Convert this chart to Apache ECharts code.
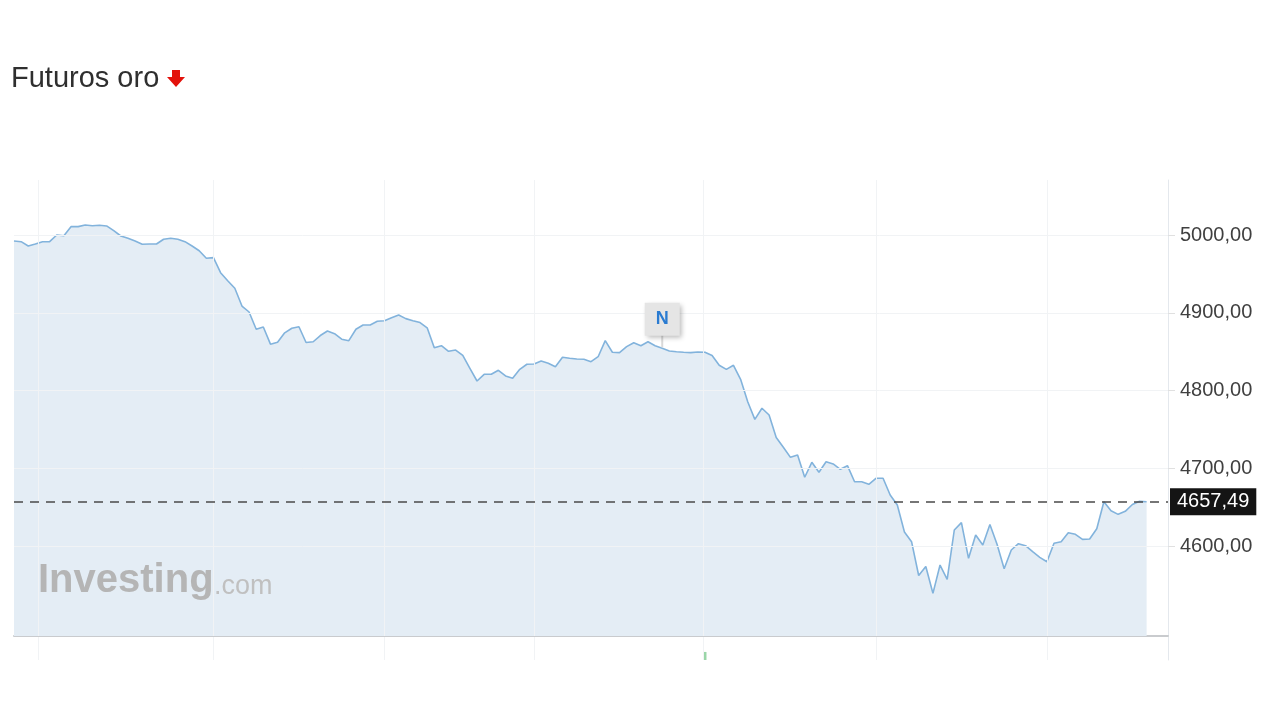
<!DOCTYPE html>
<html>
<head>
<meta charset="utf-8">
<style>
  html, body { margin: 0; padding: 0; background: #ffffff; }
  #chart { width: 1280px; height: 720px; }
</style>
<script src="https://cdn.jsdelivr.net/npm/echarts@6/dist/echarts.min.js"></script>
</head>
<body>
<div id="chart"></div>
<script>
// ---- data ----
const chartTitle = 'Futuros oro';
const prices = [
  4992.3, 4991.4, 4985.9, 4988.4, 4991.4, 4991.4, 5000.0, 4999.1, 5010.7, 5010.7,
  5012.8, 5011.9, 5012.5, 5011.6, 5005.5, 4998.7, 4995.8, 4992.3, 4988.1, 4988.4,
  4988.4, 4994.5, 4995.8, 4994.5, 4991.4, 4985.9, 4979.8, 4970.1, 4970.9, 4951.6,
  4941.3, 4931.6, 4908.8, 4901.1, 4878.9, 4881.9, 4859.8, 4862.2, 4874.4, 4880.2,
  4882.2, 4862.0, 4862.9, 4870.9, 4876.7, 4873.3, 4866.2, 4864.3, 4879.0, 4884.4,
  4884.4, 4889.2, 4889.8, 4893.7, 4897.3, 4892.6, 4889.8, 4887.6, 4880.8, 4855.3,
  4857.8, 4850.7, 4852.3, 4845.3, 4828.8, 4812.5, 4821.1, 4821.1, 4826.3, 4819.0,
  4816.0, 4827.5, 4834.0, 4834.3, 4838.2, 4835.3, 4830.9, 4843.0, 4841.7, 4840.8,
  4840.4, 4837.3, 4843.7, 4864.3, 4849.4, 4848.9, 4856.6, 4861.7, 4857.8, 4863.0,
  4857.8, 4854.5, 4851.0, 4850.1, 4849.4, 4848.9, 4849.8, 4849.5, 4845.3, 4832.7,
  4827.5, 4832.7, 4814.7, 4785.9, 4763.3, 4777.5, 4768.9, 4739.9, 4727.4, 4714.5,
  4717.5, 4688.9, 4708.1, 4695.3, 4708.9, 4706.0, 4699.1, 4703.8, 4683.2, 4683.2,
  4679.9, 4687.6, 4687.6, 4666.1, 4653.3, 4618.6, 4606.2, 4562.8, 4574.3, 4539.9,
  4576.2, 4557.9, 4621.2, 4630.6, 4584.8, 4614.8, 4601.9, 4628.2, 4602.8, 4571.4,
  4595.5, 4603.6, 4601.0, 4593.3, 4586.1, 4580.4, 4604.1, 4606.2, 4617.7, 4615.7,
  4609.2, 4609.6, 4622.9, 4657.5, 4645.9, 4641.3, 4645.2, 4653.9, 4658.0, 4657.49
];
const lastPrice = 4657.49;
const yTicks = [4600, 4700, 4800, 4900, 5000];
const sessionLines = [3.4, 28, 52, 73, 96.7, 121, 145];
const newsIndex = 91;
const newsLabel = 'N';
const volumeBars = [[97, 3.5]];

// ---- helpers ----
const fmt = v => v.toFixed(2).replace('.', ',');
const lineData = prices.map((v, i) => [i, v]);
const xMax = 162;
const yMin = 4485.1, yMax = 5070.6;
const gridLineColor = '#f1f3f5';
const fontFam = '"Liberation Sans", Arial, sans-serif';

const chart = echarts.init(document.getElementById('chart'), null, { renderer: 'canvas' });

chart.setOption({
  animation: false,
  backgroundColor: '#ffffff',
  textStyle: { fontFamily: fontFam },
  grid: [
    { left: 14, right: 112, top: 180, bottom: 84 },
    { left: 14, right: 112, top: 637, height: 23 }
  ],
  xAxis: [
    {
      type: 'value', gridIndex: 0, min: 0, max: xMax,
      axisLine: { show: true, onZero: false, lineStyle: { color: '#c9cbce', width: 2 } },
      axisTick: { show: false }, axisLabel: { show: false }, splitLine: { show: false }
    },
    {
      type: 'value', gridIndex: 1, min: 0, max: xMax,
      axisLine: { show: false, onZero: false }, axisTick: { show: false },
      axisLabel: { show: false }, splitLine: { show: false }
    }
  ],
  yAxis: [
    {
      type: 'value', gridIndex: 0, position: 'right', min: yMin, max: yMax,
      axisLine: { show: true, onZero: false, lineStyle: { color: '#e4e8ed', width: 1 } },
      axisTick: { show: true, length: 7, customValues: yTicks, lineStyle: { color: '#e0e0e0' } },
      axisLabel: {
        show: true, customValues: yTicks, margin: 12,
        color: '#404040', fontSize: 20, fontFamily: fontFam,
        formatter: v => (yTicks.indexOf(Math.round(v)) >= 0 ? fmt(v) : '')
      },
      splitLine: { show: false }
    },
    {
      type: 'value', gridIndex: 1, position: 'right', min: 0, max: 10,
      axisLine: { show: true, onZero: false, lineStyle: { color: '#e4e8ed', width: 1 } },
      axisTick: { show: false }, axisLabel: { show: false }, splitLine: { show: false }
    }
  ],
  series: [
    {
      name: 'grid', type: 'line', xAxisIndex: 0, yAxisIndex: 0, data: [],
      silent: true,
      markLine: {
        silent: true, symbol: 'none', label: { show: false },
        lineStyle: { color: gridLineColor, width: 1, type: 'solid' },
        data: yTicks.map(v => ({ yAxis: v })).concat(sessionLines.map(x => ({ xAxis: x })))
      }
    },
    {
      name: chartTitle, type: 'line', xAxisIndex: 0, yAxisIndex: 0,
      data: lineData, showSymbol: false, symbol: 'none',
      lineStyle: { color: '#82b3dc', width: 1.6 },
      areaStyle: { color: '#e4edf5', opacity: 1, origin: 'start' },
      z: 3,
      markLine: {
        silent: true, symbol: 'none',
        lineStyle: { color: '#4a4a4a', width: 1.5, type: [9, 7] },
        label: {
          show: true, position: 'end', distance: 2,
          formatter: () => fmt(lastPrice),
          color: '#ffffff', backgroundColor: '#141414',
          fontSize: 20, fontFamily: fontFam, padding: [4, 7, 3, 7]
        },
        data: [{ yAxis: lastPrice }]
      },
      markPoint: {
        silent: true,
        data: [
          {
            coord: [newsIndex, prices[newsIndex]],
            symbol: 'rect', symbolSize: [2, 12], symbolOffset: [0, -7],
            itemStyle: { color: '#d9d9d9' }, label: { show: false }
          },
          {
            coord: [newsIndex, prices[newsIndex]],
            symbol: 'rect', symbolSize: [35, 33], symbolOffset: [0, -29],
            itemStyle: {
              color: '#e5e5e5', shadowBlur: 5, shadowColor: 'rgba(0,0,0,0.28)',
              shadowOffsetX: 2, shadowOffsetY: 2
            },
            label: {
              show: true, position: 'inside', formatter: newsLabel,
              color: '#2a7bd1', fontWeight: 'bold', fontSize: 18, fontFamily: fontFam
            }
          }
        ]
      }
    },
    {
      name: 'vol', type: 'bar', xAxisIndex: 1, yAxisIndex: 1,
      data: volumeBars, barWidth: 3,
      itemStyle: { color: '#9ad6a8' },
      markLine: {
        silent: true, symbol: 'none', label: { show: false },
        lineStyle: { color: gridLineColor, width: 1, type: 'solid' },
        data: sessionLines.map(x => ({ xAxis: x }))
      }
    }
  ],
  graphic: [
    {
      type: 'text', left: 11, top: 64,
      style: { text: chartTitle, fill: '#2f2f2f', font: '29px ' + fontFam }
    },
    {
      type: 'polygon',
      shape: { points: [[172, 70], [180, 70], [180, 77], [185, 77], [176, 87], [167, 77], [172, 77]] },
      style: { fill: '#e3120b' }
    },
    {
      type: 'text', z: 10,
      style: { x: 38, y: 581, text: 'Investing', textVerticalAlign: 'middle',
        fill: '#b5b5b5', font: 'bold 40px ' + fontFam }
    },
    {
      type: 'text', z: 10,
      style: { x: 214, y: 587, text: '.com', textVerticalAlign: 'middle',
        fill: '#c0c0c0', font: '27px ' + fontFam }
    }
  ]
});
</script>
</body>
</html>
